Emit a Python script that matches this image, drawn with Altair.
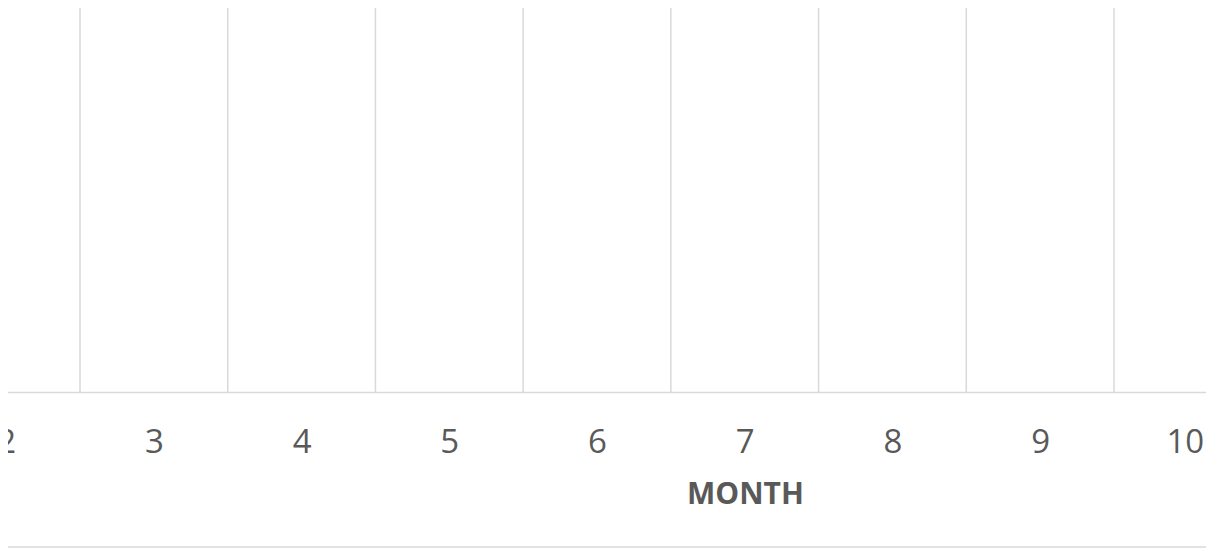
import altair as alt
import pandas as pd

months = [2, 3, 4, 5, 6, 7, 8, 9, 10]
boundaries = [m + 0.5 for m in months[:-1]]
x_domain = [1.999, 10.1229]
axis_title = "MONTH"

W, H = 1200, 386
GRID = "#d9d9d9"
TXT = "#595959"

grid_df = pd.DataFrame({"b": boundaries})

x_enc = alt.X(
    "b:Q",
    scale=alt.Scale(domain=x_domain, nice=False, zero=False),
    axis=alt.Axis(
        values=months,
        title=axis_title,
        grid=False,
        ticks=False,
        domain=True,
        domainColor=GRID,
        domainWidth=1.5,
        labelFont="Open Sans",
        labelFontSize=33,
        labelColor=TXT,
        labelBaseline="alphabetic",
        labelPadding=60,
        labelOffset=alt.expr("datum.value == 10 ? -3 : 0"),
        labelFlush=False,
        labelOverlap=False,
        labelBound=False,
        format="d",
        titleFont="Open Sans",
        titleFontSize=30,
        titleFontWeight="bold",
        titleColor=TXT,
        titleX=739,
        titleY=111,
        titleAlign="center",
        titleBaseline="alphabetic",
    ),
)

grid = alt.Chart(grid_df).mark_rule(color=GRID, strokeWidth=1.5).encode(x=x_enc)

bottom = alt.Chart(pd.DataFrame({"b": [0]})).mark_rule(color=GRID, strokeWidth=1.5).encode(
    x=alt.value(0), x2=alt.value(W), y=alt.value(541)
)

chart = (
    alt.layer(grid, bottom)
    .properties(
        width=W,
        height=H,
        autosize=alt.AutoSizeParams(type="none"),
        padding={"left": -2, "top": -2, "right": 0, "bottom": 156},
        background="white",
    )
    .configure_view(stroke=None)
)

chart.save("out.html", embed_options={"renderer": "svg", "actions": False})
